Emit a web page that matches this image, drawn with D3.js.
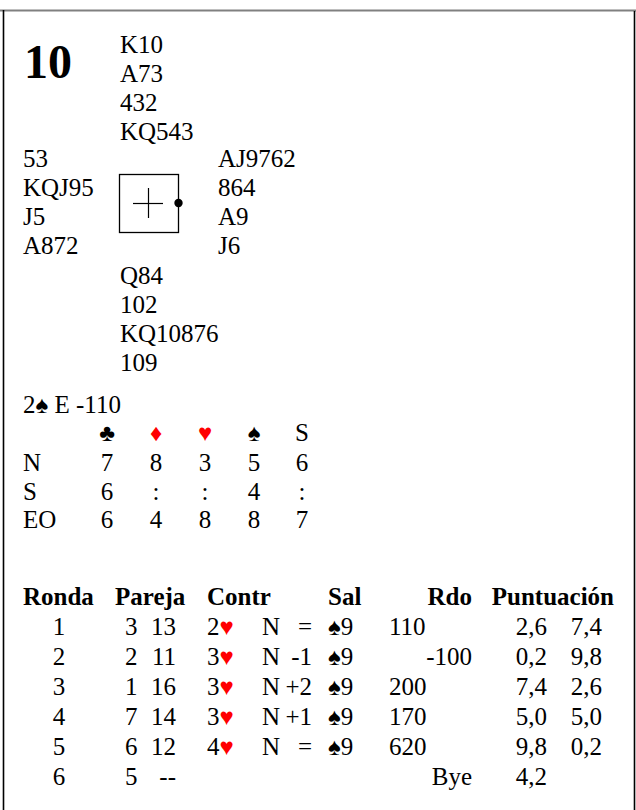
<!DOCTYPE html>
<html><head><meta charset="utf-8">
<script src="https://cdn.jsdelivr.net/npm/d3@7"></script>
<style>html,body{margin:0;padding:0;background:#fff;}svg{display:block;}</style>
</head><body>
<script>
const board = "10";
const north = ["K10", "A73", "432", "KQ543"];
const west = ["53", "KQJ95", "J5", "A872"];
const east = ["AJ9762", "864", "A9", "J6"];
const south = ["Q84", "102", "KQ10876", "109"];
const contractLevel = "2", contractSuit = "♠", contractRest = " E -110";
const trickSuits = ["♣", "♦", "♥", "♠", "S"];
const trickRows = ["N", "S", "EO"];
const trickValues = [["7","8","3","5","6"],["6",":",":","4",":"],["6","4","8","8","7"]];
const headers = ["Ronda", "Pareja", "Contr", "Sal", "Rdo", "Puntuación"];
const rondas = ["1","2","3","4","5","6"];
const pairNS = ["3","2","1","7","6","5"];
const pairEW = ["13","11","16","14","12","--"];
const contrLevels = ["2","3","3","3","4",""];
const contrSuits = ["♥","♥","♥","♥","♥",""];
const declarers = ["N","N","N","N","N",""];
const results = ["=","-1","+2","+1","=",""];
const leads = ["9","9","9","9","9",""];
const scoreNS = ["110","","200","170","620",""];
const scoreEW = ["","-100","","","","Bye"];
const ptsNS = ["2,6","0,2","7,4","5,0","9,8","4,2"];
const ptsEW = ["7,4","9,8","2,6","5,0","0,2",""];

const W = 636, H = 810;
const font = "'Liberation Serif','Times New Roman',serif";
const red = "#ff0000";
const isRed = s => s === "♥" || s === "♦";
const suitFs = 24;

const svg = d3.select("body").append("svg").attr("width", W).attr("height", H)
  .style("font-family", font);

// frame
svg.append("line").attr("x1",0).attr("x2",636).attr("y1",10.5).attr("y2",10.5)
  .attr("stroke","#808080").attr("stroke-width",2);
svg.append("line").attr("x1",3.5).attr("x2",3.5).attr("y1",10).attr("y2",H)
  .attr("stroke","#000").attr("stroke-width",1.6);
svg.append("line").attr("x1",634.5).attr("x2",634.5).attr("y1",11).attr("y2",H)
  .attr("stroke","#000").attr("stroke-width",1.6);

// board number
svg.append("text").attr("x",24).attr("y",78).attr("font-size",48).attr("font-weight","bold").text(board);

const fs = 25, lh = 28.9;
function hand(lines, x, y0) {
  svg.append("g").selectAll("text").data(lines).join("text")
    .attr("x", x).attr("y", (d,i) => y0 + i*lh).attr("font-size", fs).text(d => d);
}
hand(north, 120, 53);
hand(west, 23, 167);
hand(east, 218, 167);
hand(south, 120, 284);

// compass box
svg.append("rect").attr("x",119.5).attr("y",174.5).attr("width",59).attr("height",58)
  .attr("fill","none").attr("stroke","#000").attr("stroke-width",1.3);
svg.append("line").attr("x1",133).attr("x2",163).attr("y1",203.5).attr("y2",203.5).attr("stroke","#000").attr("stroke-width",1.2);
svg.append("line").attr("x1",148.5).attr("x2",148.5).attr("y1",188).attr("y2",218).attr("stroke","#000").attr("stroke-width",1.2);
svg.append("circle").attr("cx",178.5).attr("cy",203).attr("r",4.2).attr("fill","#000");

// contract line
const ct = svg.append("text").attr("x",23).attr("y",413).attr("font-size",fs);
ct.append("tspan").text(contractLevel);
ct.append("tspan").attr("font-size",suitFs).attr("fill", isRed(contractSuit)?red:"#000").text(contractSuit);
ct.append("tspan").text(contractRest);

// tricks table
const colX = [107, 156, 205, 254, 302];
svg.append("g").selectAll("text").data(trickSuits).join("text")
  .attr("x",(d,i)=>colX[i]).attr("y",441).attr("text-anchor","middle")
  .attr("font-size", d => d === "S" ? fs : suitFs)
  .attr("fill", d => isRed(d) ? red : "#000").text(d=>d);
trickRows.forEach((r, ri) => {
  const y = 471 + ri*28.7;
  svg.append("text").attr("x",23).attr("y",y).attr("font-size",fs).text(r);
  svg.append("g").selectAll("text").data(trickValues[ri]).join("text")
    .attr("x",(d,i)=>colX[i]).attr("y",y).attr("text-anchor","middle").attr("font-size",fs).text(d=>d);
});

// results table
const hy = 605;
const hdrPos = [[23,"start"],[115,"start"],[207,"start"],[328,"start"],[472,"end"],[614,"end"]];
svg.append("g").selectAll("text").data(headers).join("text")
  .attr("x",(d,i)=>hdrPos[i][0]).attr("y",hy).attr("text-anchor",(d,i)=>hdrPos[i][1])
  .attr("font-size",fs).attr("font-weight","bold").text(d=>d);

rondas.forEach((r, i) => {
  const y = 635 + i*30;
  const g = svg.append("g").attr("font-size", fs);
  const t = (x, s, anchor) => g.append("text").attr("x",x).attr("y",y).attr("text-anchor",anchor||"start").text(s);
  t(59, r, "middle");
  t(137.5, pairNS[i], "end");
  t(176, pairEW[i], "end");
  if (contrLevels[i]) {
    const c = g.append("text").attr("x",207).attr("y",y);
    c.append("tspan").text(contrLevels[i]);
    c.append("tspan").attr("font-size",suitFs).attr("font-weight","bold")
      .attr("fill", isRed(contrSuits[i])?red:"#000").text(contrSuits[i]);
    t(262, declarers[i]);
    t(312, results[i], "end");
    const l = g.append("text").attr("x",328).attr("y",y);
    l.append("tspan").attr("font-size",suitFs).text("♠");
    l.append("tspan").text(leads[i]);
  }
  if (scoreNS[i]) t(389, scoreNS[i]);
  if (scoreEW[i]) t(472, scoreEW[i], "end");
  t(547, ptsNS[i], "end");
  if (ptsEW[i]) t(602, ptsEW[i], "end");
});
</script>
</body></html>
